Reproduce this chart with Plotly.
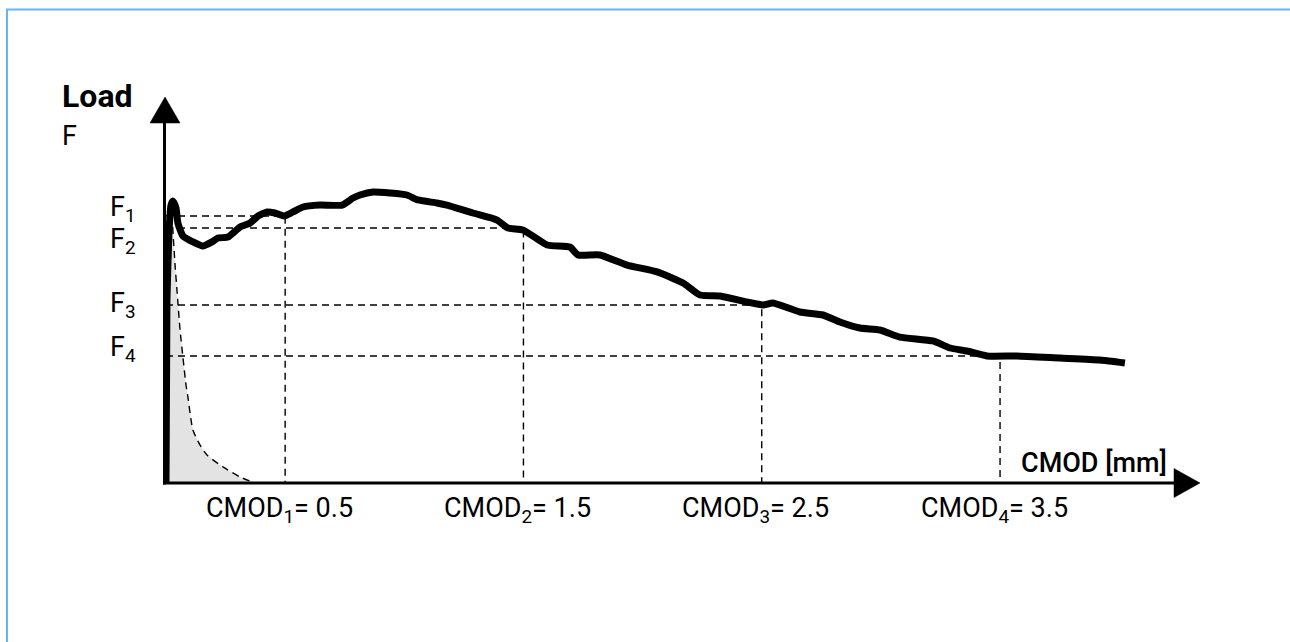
import plotly.graph_objects as go

# ---- data (CMOD in mm, load in arbitrary kN-like units) ----
cmod = [0.000, 0.004, 0.013, 0.021, 0.029, 0.042, 0.050, 0.071, 0.113, 0.155,
        0.193, 0.218, 0.260, 0.311, 0.353, 0.386, 0.424, 0.457, 0.495, 0.533,
        0.575, 0.646, 0.739, 0.785, 0.814, 0.869, 0.940, 1.011, 1.057, 1.137,
        1.179, 1.288, 1.389, 1.435, 1.498, 1.599, 1.695, 1.729, 1.821, 1.935,
        2.061, 2.170, 2.241, 2.325, 2.438, 2.505, 2.547, 2.660, 2.757, 2.828,
        2.912, 2.996, 3.080, 3.219, 3.290, 3.361, 3.445, 3.571, 3.752, 3.919,
        4.024]
load = [0.00, 12.20, 16.87, 18.53, 18.80, 18.33, 17.33, 16.47, 16.07, 15.80,
        16.07, 16.33, 16.40, 17.07, 17.33, 17.80, 18.07, 18.00, 17.80, 18.07,
        18.40, 18.53, 18.53, 19.00, 19.20, 19.40, 19.33, 19.20, 18.87, 18.67,
        18.53, 18.00, 17.53, 17.00, 16.87, 15.87, 15.73, 15.20, 15.20, 14.53,
        14.07, 13.33, 12.53, 12.47, 12.07, 11.87, 12.00, 11.40, 11.20, 10.73,
        10.33, 10.20, 9.73, 9.47, 9.00, 8.80, 8.47, 8.47, 8.33, 8.20,
        8.00]

unload_cmod = [0.025, 0.038, 0.046, 0.059, 0.071, 0.084, 0.092, 0.113, 0.143,
               0.172, 0.239, 0.311, 0.373]
unload_load = [17.87, 14.53, 12.87, 10.20, 8.40, 6.53, 5.73, 3.53, 2.53,
               1.87, 1.07, 0.40, 0.00]

cmod_points = [0.5, 1.5, 2.5, 3.5]
f_values = [17.80, 17.00, 11.87, 8.47]
f_labels = ["F<sub>1</sub>", "F<sub>2</sub>", "F<sub>3</sub>", "F<sub>4</sub>"]
cmod_labels = ["CMOD<sub>1</sub>= 0.5", "CMOD<sub>2</sub>= 1.5",
               "CMOD<sub>3</sub>= 2.5", "CMOD<sub>4</sub>= 3.5"]

# ---- layout geometry (pixels) ----
W, H = 1290, 642
PL, PR, PT, PB = 164, 1200, 97, 483
X_PER_MM = 238.3
Y_PER_UNIT = 15.0
x0_px = 166
# label vertical positions (pixels) for F labels (they are spread, not aligned to lines)
f_label_px = [209, 241, 305, 349]


def pxx(px):
    return (px - PL) / (PR - PL)


def pxy(py):
    return (PB - py) / (PB - PT)


FONT = "Roboto"

fig = go.Figure()

# grey area under unloading curve
fig.add_trace(go.Scatter(
    x=cmod[:4] + unload_cmod, y=load[:4] + unload_load,
    fill="toself", fillcolor="#e3e3e3", mode="lines",
    line=dict(width=0, color="rgba(0,0,0,0)"), hoverinfo="skip"))

# dashed reference lines
for cx, fv in zip(cmod_points, f_values):
    fig.add_trace(go.Scatter(
        x=[0, cx, cx], y=[fv, fv, 0], mode="lines",
        line=dict(color="black", width=1.4, dash="7px,5px"), hoverinfo="skip"))

# unloading dashed curve
fig.add_trace(go.Scatter(
    x=unload_cmod, y=unload_load, mode="lines",
    line=dict(color="black", width=1.4, dash="7px,5px", shape="spline", smoothing=0.6),
    hoverinfo="skip"))

# main load curve
fig.add_trace(go.Scatter(
    x=cmod, y=load, mode="lines",
    line=dict(color="black", width=7, shape="spline", smoothing=0.5),
    hoverinfo="skip"))

shapes = []
# axis lines
shapes.append(dict(type="line", xref="paper", yref="paper",
                   x0=pxx(164.5), x1=pxx(164.5), y0=pxy(484.5), y1=pxy(120),
                   line=dict(color="black", width=3), layer="above"))
shapes.append(dict(type="line", xref="paper", yref="paper",
                   x0=pxx(163), x1=pxx(1178), y0=pxy(483), y1=pxy(483),
                   line=dict(color="black", width=3), layer="above"))
# arrow heads
shapes.append(dict(type="path", xref="paper", yref="paper",
                   xsizemode="pixel", ysizemode="pixel",
                   xanchor=pxx(165), yanchor=pxy(97),
                   path="M -15,-26 L 15,-26 L 0,0 Z",
                   fillcolor="black", line=dict(color="black", width=0.5), layer="above"))
shapes.append(dict(type="path", xref="paper", yref="paper",
                   xsizemode="pixel", ysizemode="pixel",
                   xanchor=pxx(1200), yanchor=pxy(483),
                   path="M -26,-14.5 L -26,14.5 L 0,0 Z",
                   fillcolor="black", line=dict(color="black", width=0.5), layer="above"))
# frame
shapes.append(dict(type="rect", xref="paper", yref="paper",
                   x0=pxx(7), x1=pxx(1320), y0=pxy(9.5), y1=pxy(680),
                   line=dict(color="#64b5f6", width=2), fillcolor="rgba(0,0,0,0)"))

annotations = []
annotations.append(dict(text="<b>Load</b>", xref="paper", yref="paper",
                        x=pxx(60), y=pxy(96), xanchor="left", yanchor="middle",
                        showarrow=False, font=dict(family=FONT, size=32, color="black")))
annotations.append(dict(text="F", xref="paper", yref="paper",
                        x=pxx(60), y=pxy(136), xanchor="left", yanchor="middle",
                        showarrow=False, font=dict(family=FONT, size=27, color="black")))
annotations.append(dict(text="CMOD [mm]", xref="paper", yref="paper",
                        x=pxx(1094), y=pxy(463), xanchor="center", yanchor="middle",
                        showarrow=False, font=dict(family=FONT, size=27, color="black", weight=500)))

for ly, lab in zip(f_label_px, f_labels):
    annotations.append(dict(text=lab, xref="paper", yref="paper",
                            x=pxx(138), y=pxy(ly), xanchor="right", yanchor="middle",
                            showarrow=False,
                            font=dict(family=FONT, size=27, color="black")))
for cx, lab in zip(cmod_points, cmod_labels):
    annotations.append(dict(text=lab, xref="x", yref="paper",
                            x=cx, xshift=-6, y=pxy(510), xanchor="center", yanchor="middle",
                            showarrow=False,
                            font=dict(family=FONT, size=27, color="black")))

x_lo = -(x0_px - PL) / X_PER_MM
x_hi = (PR - x0_px) / X_PER_MM
y_hi = (PB - PT) / Y_PER_UNIT

fig.update_layout(
    width=W, height=H, autosize=False,
    margin=dict(l=PL, r=W - PR, t=PT, b=H - PB, pad=0),
    paper_bgcolor="white", plot_bgcolor="white",
    showlegend=False,
    xaxis=dict(range=[x_lo, x_hi], visible=False, fixedrange=True),
    yaxis=dict(range=[0, y_hi], visible=False, fixedrange=True),
    shapes=shapes, annotations=annotations,
)

fig.write_html("out.html")
